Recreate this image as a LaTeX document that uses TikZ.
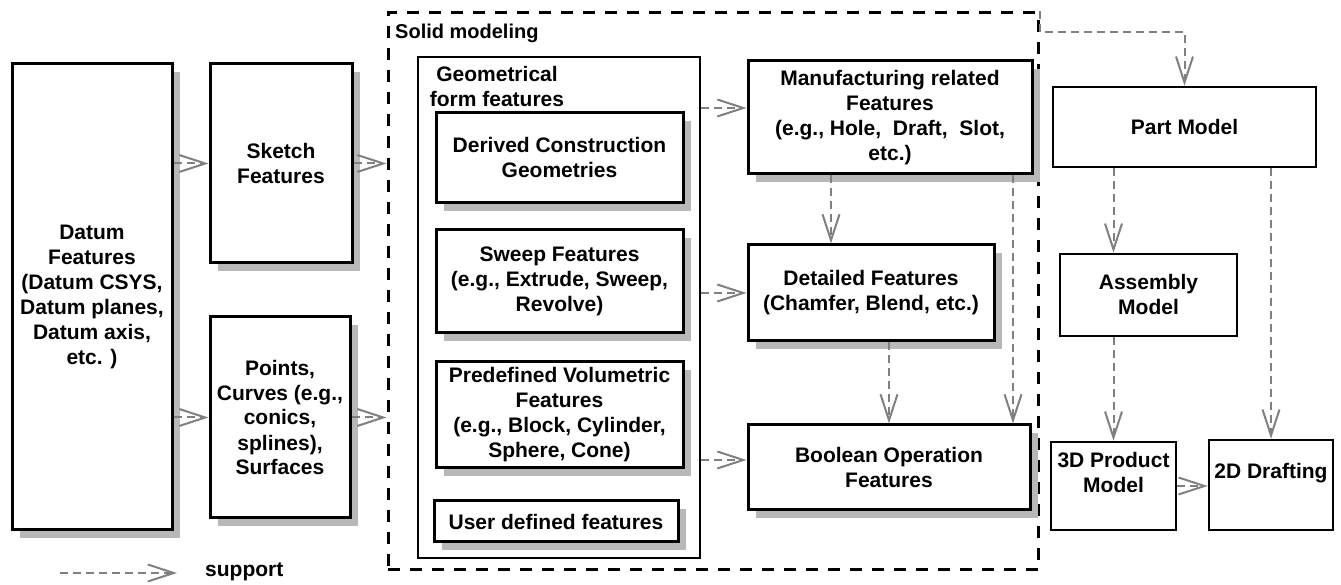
\documentclass[tikz,border=0pt]{standalone}
\usepackage{fontspec}
\setmainfont{Liberation Sans}
\usetikzlibrary{arrows.meta,shadows,calc}
\begin{document}
\begin{tikzpicture}[x=1pt,y=1pt,
  every node/.style={font=\bfseries\fontsize{21}{25}\selectfont, align=center},
  box/.style={draw, line width=3pt, fill=white, inner sep=2pt},
  sbox/.style={box, drop shadow={shadow xshift=8pt, shadow yshift=-8pt, fill=black!28, opacity=1}},
  pbox/.style={draw, line width=2.5pt, fill=white, inner sep=2pt},
  support/.style={draw=black!50, line width=2pt, dash pattern=on 8pt off 5pt,
     -{Straight Barb[length=26pt, width=17pt]}},
  smbox/.style={draw, line width=3pt, dash pattern=on 12pt off 10pt},
  gbox/.style={draw, line width=2pt}
]
\useasboundingbox (0,0) rectangle (1341,585);

% left column
\node[sbox, minimum width=160, minimum height=466] (datum) at (92,288)
  {Datum\\Features\\(Datum CSYS,\\Datum planes,\\Datum axis,\\etc. )};
\node[sbox, minimum width=142, minimum height=199] (sketch) at (281,421.5) {Sketch\\Features};
\node[sbox, minimum width=140, minimum height=201] (points) at (280,167.5)
  {Points,\\Curves (e.g.,\\conics,\\splines),\\Surfaces};

% solid modeling container
\node[smbox, minimum width=650, minimum height=557] (sm) at (713,293.5) {};
\node[anchor=west, inner sep=0pt, font=\bfseries\fontsize{20}{25}\selectfont] (smlabel) at (395,552) {Solid modeling};

% geometrical form features container
\node[gbox, minimum width=282, minimum height=501] (gff) at (559,277.5) {};
\node[inner sep=0pt] (gfflabel) at (497,498.5) {Geometrical\\form features};

\node[sbox, minimum width=247, minimum height=90] (derived) at (559.5,427) {Derived Construction\\Geometries};
\node[sbox, minimum width=247, minimum height=103] (sweep) at (559.5,303.5) {Sweep Features\\(e.g., Extrude, Sweep,\\Revolve)};
\node[sbox, minimum width=247, minimum height=106] (predef) at (559.5,170) {Predefined Volumetric\\Features\\(e.g., Block, Cylinder,\\Sphere, Cone)};
\node[sbox, minimum width=244, minimum height=41] (user) at (556,63.5) {User defined features};

% right part of solid modeling
\node[sbox, minimum width=284, minimum height=113] (manuf) at (890,467.5)
  {Manufacturing related\\Features\\(e.g., Hole,~ Draft,~ Slot,\\etc.)};
\node[sbox, minimum width=246, minimum height=96] (detailed) at (871,292)
  {Detailed Features\\(Chamfer, Blend, etc.)};
\node[sbox, minimum width=282, minimum height=85] (boolean) at (889,117.5)
  {Boolean Operation\\Features};

% product models
\node[pbox, minimum width=263, minimum height=80] (part) at (1184.5,458) {Part Model};
\node[pbox, minimum width=177, minimum height=82] (assembly) at (1148.5,290) {Assembly\\Model};
\node[pbox, minimum width=125, minimum height=88] (tdp) at (1113.5,99) {};
\node[inner sep=0pt] (tdptext) at (1113.5,113) {3D Product\\Model};
\node[pbox, minimum width=124, minimum height=90] (dd) at (1271,100) {};
\node[inner sep=0pt] (ddtext) at (1271,112) {2D Drafting};

% connectors
\draw[support] (datum.east |- sketch) -- (sketch.west);
\draw[support] (datum.east |- points) -- (points.west);
\draw[support] (sketch.east) -- (sketch.east -| sm.west);
\draw[support] (points.east) -- (points.east -| sm.west);

\draw[support] ([yshift=9.5]manuf.west -| gff.east) -- ([yshift=9.5]manuf.west);
\draw[support] (gff.east |- detailed) -- (detailed.west);
\draw[support] ([yshift=7.5]boolean.west -| gff.east) -- ([yshift=7.5]boolean.west);

\draw[support] ([xshift=-40]detailed.north |- manuf.south) -- ([xshift=-40]detailed.north);
\draw[support] (detailed.south -| boolean.north) -- (boolean.north);
\draw[support] ([xshift=124]boolean.north |- manuf.south) -- ([xshift=124]boolean.north);

\draw[support] (sm.north east) -- ++(0,-21) -| (part.north);
\draw[support] (part.south -| tdp.north) -- (assembly.north -| tdp.north);
\draw[support] (assembly.south -| tdp.north) -- (tdp.north);
\draw[support] (part.south -| dd.north) -- (dd.north);
\draw[support] (tdp.east) -- (tdp.east -| dd.west);

% legend
\coordinate (l1) at (60,12);
\coordinate (l2) at (177,12);
\draw[support] (l1) -- (l2);
\node[anchor=west, inner sep=0pt] (legend) at (205,13) {support};
\end{tikzpicture}
\end{document}
